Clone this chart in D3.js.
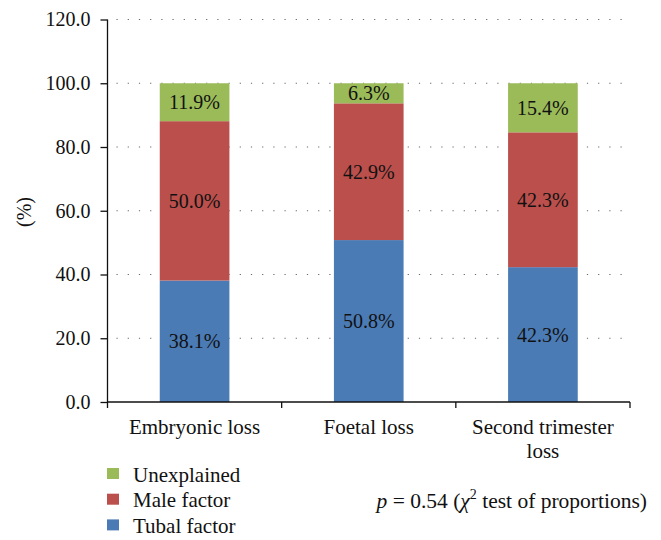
<!DOCTYPE html>
<html>
<head>
<meta charset="utf-8">
<script src="https://cdnjs.cloudflare.com/ajax/libs/d3/7.8.5/d3.min.js"></script>
<style>
  body { margin: 0; background: #fff; }
  svg text { font-family: "Liberation Serif", "Tinos", "DejaVu Serif", serif; fill: #111; }
</style>
</head>
<body>
<div id="chart"></div>
<script>
// data
var categories = ["Embryonic loss", "Foetal loss", "Second trimester loss"];
var categoryLines = [["Embryonic loss"], ["Foetal loss"], ["Second trimester", "loss"]];
var seriesNames = ["Tubal factor", "Male factor", "Unexplained"];
var tubal = [38.1, 50.8, 42.3];
var male = [50.0, 42.9, 42.3];
var unexplained = [11.9, 6.3, 15.4];
var yTicks = [0, 20, 40, 60, 80, 100, 120];
var colors = ["#4B7BB5", "#BA4F4C", "#9BBB59"];

var svgWidth = 661;
var svgHeight = 540;

var margin = { top: 19.5, left: 107.5, right: 30.5, bottom: 138 };
var width = 630 - margin.left;
var height = 402 - margin.top;

var svg = d3.select("#chart")
  .append("svg")
  .attr("width", svgWidth)
  .attr("height", svgHeight);

var chartGroup = svg.append("g")
  .attr("transform", `translate(${margin.left}, ${margin.top})`);

var xScale = d3.scaleBand()
  .domain(categories)
  .range([0, width])
  .padding(0);

var yScale = d3.scaleLinear()
  .domain([0, 120])
  .range([height, 0]);

// dotted gridlines
chartGroup.append("g")
  .selectAll("line")
  .data(yTicks.filter(d => d > 0))
  .enter()
  .append("line")
  .attr("x1", 9)
  .attr("x2", width)
  .attr("y1", d => yScale(d))
  .attr("y2", d => yScale(d))
  .attr("stroke", "#666")
  .attr("stroke-width", 1.2)
  .attr("stroke-dasharray", "1.2,10");

// stacked data
var stackRows = categories.map(function(c, i) {
  return { cat: c, "Tubal factor": tubal[i], "Male factor": male[i], "Unexplained": unexplained[i] };
});
var stacked = d3.stack().keys(seriesNames)(stackRows);

var barW = xScale.bandwidth() * 0.4;

var layers = chartGroup.selectAll("g.layer")
  .data(stacked)
  .enter()
  .append("g")
  .attr("class", "layer")
  .attr("fill", (d, i) => colors[i]);

layers.selectAll("rect")
  .data(d => d)
  .enter()
  .append("rect")
  .attr("x", d => xScale(d.data.cat) + (xScale.bandwidth() - barW) / 2)
  .attr("y", d => yScale(d[1]))
  .attr("width", barW)
  .attr("height", d => yScale(d[0]) - yScale(d[1]));

layers.selectAll("text")
  .data(d => d.map(p => ({ p: p, key: d.key })))
  .enter()
  .append("text")
  .attr("x", d => xScale(d.p.data.cat) + xScale.bandwidth() / 2)
  .attr("y", d => yScale((d.p[0] + d.p[1]) / 2))
  .attr("dy", "0.35em")
  .attr("text-anchor", "middle")
  .style("font-size", "20px")
  .text(d => d.p.data[d.key].toFixed(1) + "%");

// y axis
var leftAxis = d3.axisLeft(yScale)
  .tickValues(yTicks)
  .tickFormat(d3.format(".1f"))
  .tickSize(7)
  .tickPadding(10);

var yAxis = chartGroup.append("g").call(leftAxis).attr("font-family", null);
yAxis.select(".domain").attr("stroke", "#111").attr("stroke-width", 1.3).attr("d", `M0,0V${height}`);
yAxis.selectAll(".tick line").attr("stroke", "#111").attr("stroke-width", 1.3);
yAxis.selectAll("text").style("font-size", "20px").attr("fill", "#111");

// x axis: ticks at category boundaries
var xAxis = chartGroup.append("g")
  .attr("transform", `translate(0, ${height})`);
xAxis.append("line")
  .attr("x1", 0).attr("x2", width)
  .attr("stroke", "#111").attr("stroke-width", 1.3);
xAxis.selectAll("line.tk")
  .data([0].concat(categories.map(c => xScale(c) + xScale.bandwidth())))
  .enter()
  .append("line")
  .attr("class", "tk")
  .attr("x1", d => d).attr("x2", d => d)
  .attr("y1", 0).attr("y2", 6)
  .attr("stroke", "#111").attr("stroke-width", 1.3);

var catLabels = xAxis.selectAll("text.cat")
  .data(categories)
  .enter()
  .append("text")
  .attr("class", "cat")
  .attr("text-anchor", "middle")
  .attr("x", d => xScale(d) + xScale.bandwidth() / 2)
  .attr("y", 32)
  .style("font-size", "21px");
catLabels.each(function(d, i) {
  var t = d3.select(this);
  categoryLines[i].forEach(function(line, j) {
    t.append("tspan")
      .attr("x", xScale(d) + xScale.bandwidth() / 2)
      .attr("dy", j === 0 ? 0 : 23.5)
      .text(line);
  });
});

// y label
svg.append("text")
  .attr("transform", "translate(31, 212) rotate(-90)")
  .attr("text-anchor", "middle")
  .style("font-size", "20px")
  .text("(%)");

// legend
var legendItems = seriesNames.slice().reverse();
var legend = svg.append("g")
  .attr("transform", "translate(107, 468)");
var legendRow = legend.selectAll("g")
  .data(legendItems)
  .enter()
  .append("g")
  .attr("transform", (d, i) => `translate(0, ${i * 25.7})`);
legendRow.append("rect")
  .attr("width", 12)
  .attr("height", 11)
  .attr("fill", d => colors[seriesNames.indexOf(d)]);
legendRow.append("text")
  .attr("x", 26)
  .attr("y", 13.5)
  .style("font-size", "21px")
  .text(d => d);

// p value note
var note = svg.append("text")
  .attr("x", 647)
  .attr("y", 508)
  .attr("text-anchor", "end")
  .style("font-size", "21.5px");
note.append("tspan").style("font-style", "italic").text("p");
note.append("tspan").text(" = 0.54 (");
note.append("tspan").style("font-style", "italic").text("χ");
note.append("tspan").attr("dy", -9).style("font-size", "14px").text("2");
note.append("tspan").attr("dy", 9).text(" test of proportions)");
</script>
</body>
</html>
